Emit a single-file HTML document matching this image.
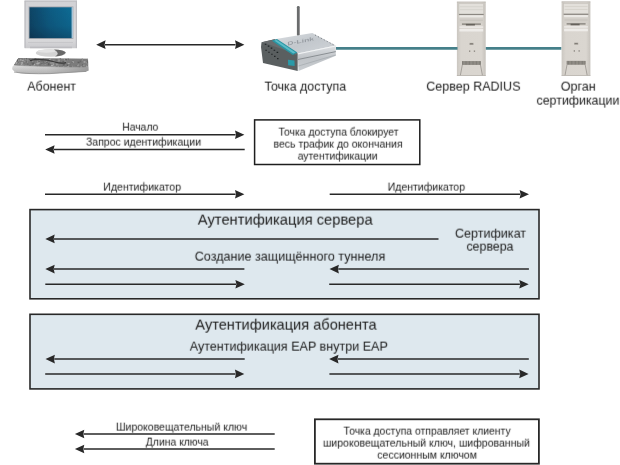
<!DOCTYPE html>
<html><head><meta charset="utf-8"><style>
html,body{margin:0;padding:0;background:#fff;}
body{width:620px;height:465px;overflow:hidden;}
svg{display:block;font-family:"Liberation Sans", sans-serif;}
</style></head><body>
<svg width="620" height="465" viewBox="0 0 620 465">
<defs><filter id="tsoft" filterUnits="userSpaceOnUse" x="0" y="0" width="620" height="465"><feConvolveMatrix order="3 2" kernelMatrix="0.03 0.29 0.03 0.05 0.55 0.05" targetX="1" targetY="1" edgeMode="none"/></filter></defs>
<rect width="620" height="465" fill="#fff"/>
<defs>
<filter id="soft" x="-10%" y="-10%" width="120%" height="120%"><feGaussianBlur stdDeviation="0.35"/></filter>
<linearGradient id="scr" x1="0" y1="0" x2="1" y2="0">
<stop offset="0" stop-color="#0f4465"/><stop offset="0.5" stop-color="#115c83"/><stop offset="1" stop-color="#0f6b94"/>
</linearGradient>
<linearGradient id="scrv" x1="0" y1="0" x2="0" y2="1"><stop offset="0" stop-color="#001426" stop-opacity="0"/><stop offset="0.6" stop-color="#001426" stop-opacity="0.08"/><stop offset="1" stop-color="#001426" stop-opacity="0.3"/></linearGradient>
<linearGradient id="bez" x1="0" y1="0" x2="0" y2="1">
<stop offset="0" stop-color="#d2d2d5"/><stop offset="0.8" stop-color="#dadadc"/><stop offset="1" stop-color="#cacacd"/>
</linearGradient>
<linearGradient id="kb" x1="0" y1="0" x2="0" y2="1">
<stop offset="0" stop-color="#cfcfcf"/><stop offset="0.55" stop-color="#d6d6d6"/><stop offset="1" stop-color="#b4b4b4"/>
</linearGradient>
<linearGradient id="kbh" x1="0" y1="0" x2="1" y2="0"><stop offset="0" stop-color="#999" stop-opacity="0"/><stop offset="0.45" stop-color="#999" stop-opacity="0.1"/><stop offset="1" stop-color="#8a8a8a" stop-opacity="0.75"/></linearGradient>
<linearGradient id="apTop" x1="0" y1="0" x2="1" y2="1">
<stop offset="0" stop-color="#d9dde1"/><stop offset="0.5" stop-color="#c3c8cd"/><stop offset="1" stop-color="#d0d4d8"/>
</linearGradient>
<linearGradient id="apSide" x1="0" y1="0" x2="0" y2="1">
<stop offset="0" stop-color="#dde0e3"/><stop offset="0.5" stop-color="#bfc3c7"/><stop offset="1" stop-color="#c9cdd1"/>
</linearGradient>
<linearGradient id="srv" x1="0" y1="0" x2="1" y2="0">
<stop offset="0" stop-color="#cbc7c1"/><stop offset="0.15" stop-color="#d9d5cf"/><stop offset="0.85" stop-color="#dad6d0"/><stop offset="1" stop-color="#c6c2bc"/>
</linearGradient>
<g id="server">
<rect x="0" y="0" width="28.8" height="74.3" fill="url(#srv)"/>
<rect x="0" y="0" width="28.8" height="0.8" fill="#bdb9b3"/>
<rect x="2" y="1.8" width="24.8" height="10.7" fill="#e3e0db"/>
<rect x="2" y="1.8" width="24.8" height="10.7" fill="none" stroke="#c4c0ba" stroke-width="0.6"/>
<line x1="3" y1="5" x2="26" y2="5" stroke="#cfcbc5" stroke-width="0.6"/>
<line x1="3" y1="8" x2="26" y2="8" stroke="#cfcbc5" stroke-width="0.6"/>
<rect x="2" y="12.2" width="24.8" height="1.2" fill="#8b8781"/>
<rect x="2.5" y="13.6" width="23.8" height="2.2" fill="#ebe9e5"/>
<rect x="2.5" y="16" width="23.8" height="5.5" fill="#d3cfc9"/>
<line x1="3" y1="18.5" x2="26" y2="18.5" stroke="#bcb8b2" stroke-width="0.6"/>
<rect x="5" y="21.8" width="19" height="1.2" fill="#7a766f"/>
<rect x="9" y="22.2" width="9" height="1.6" fill="#66625c"/>
<rect x="2.5" y="24.6" width="23.8" height="1.6" fill="#ebe9e6"/>
<rect x="2.5" y="27.2" width="23.8" height="2.6" fill="#eeece9"/>
<rect x="12.6" y="41.2" width="4" height="2" fill="#a09c95"/><rect x="13.2" y="41.6" width="2.8" height="0.9" fill="#7e7a74"/>
<rect x="12.1" y="48.8" width="1.3" height="1.3" fill="#85817b"/>
<rect x="16.9" y="48.8" width="1.3" height="1.3" fill="#85817b"/>
<rect x="5.2" y="59.3" width="18.6" height="4" fill="#a6a29b"/>
<path d="M5.6,59.5v3.6M7,59.5v3.6M8.4,59.5v3.6M9.8,59.5v3.6M11.2,59.5v3.6M12.6,59.5v3.6M14,59.5v3.6M15.4,59.5v3.6M16.8,59.5v3.6M18.2,59.5v3.6M19.6,59.5v3.6M21,59.5v3.6M22.4,59.5v3.6M23.5,59.5v3.6" stroke="#6f6b65" stroke-width="0.7"/>
<path d="M5.4,63.3 L3.4,74 M23.6,63.3 L25.6,74" stroke="#8e8a84" stroke-width="0.7" fill="none"/>
<rect x="0" y="73.5" width="28.8" height="0.8" fill="#b8b4ae"/>
</g>
</defs>
<!-- computer -->
<g filter="url(#soft)">
<rect x="24.5" y="0.6" width="52.5" height="47.6" rx="1.5" fill="url(#bez)"/>
<rect x="24.5" y="0.6" width="52.5" height="1" fill="#b9b9bd"/>
<rect x="24.5" y="0.6" width="1.2" height="47.6" fill="#bdbdc1"/>
<rect x="75.8" y="0.6" width="1.2" height="47.6" fill="#bdbdc1"/>
<rect x="28.6" y="6.4" width="44.8" height="32.6" fill="#a9aab0"/>
<rect x="29.5" y="7.3" width="42.3" height="30.8" fill="url(#scr)"/>
<rect x="29.5" y="7.3" width="42.3" height="30.8" fill="url(#scrv)"/>
<rect x="71.7" y="7.3" width="1.1" height="30.8" fill="#a9cde2"/>
<rect x="28" y="42" width="45" height="0.7" fill="#c2c2c5"/>
<rect x="30" y="46.6" width="42" height="1.6" fill="#bcbcc0"/>
<ellipse cx="50.8" cy="53" rx="15" ry="3.8" fill="#d3d3d3"/>
<path d="M54,49.4 Q64.5,49.8 65.8,52.6 Q64,56 55,56.6 Q61,53.5 54,49.4 Z" fill="#555" opacity="0.85"/>
<ellipse cx="46.5" cy="51.2" rx="9" ry="1.6" fill="#e3e3e3"/>
<path d="M18.4,58 L88,58.7 L88.6,70.4 Q87,71.6 83,71.7 L60,73 Q40,74.2 26,73.7 Q14.5,73.1 12.2,69.2 Q11.8,66.4 14,65 Z" fill="url(#kb)"/>
<path d="M14,65 L88.4,67.2 L88.6,70.4 Q87,71.6 83,71.7 L60,73 Q40,74.2 26,73.7 Q14.5,73.1 12.2,69.2 Q11.8,66.4 14,65 Z" fill="url(#kbh)"/>
<clipPath id="keys"><path d="M18.4,58 L88,58.7 L88.2,67.2 L60,67 Q40,66.2 26,65.8 L14,65 Z"/></clipPath>
<path d="M18.4,58 L88,58.7 L88.2,67.2 L60,67 Q40,66.2 26,65.8 L14,65 Z" fill="#7b7b7b"/>
<g clip-path="url(#keys)">
<rect x="30.8" y="62.7" width="1.3" height="1.5" fill="#737373"/>
<rect x="56.6" y="63.3" width="2.1" height="1.4" fill="#909090"/>
<rect x="30.6" y="67.0" width="1.5" height="1.8" fill="#afafaf"/>
<rect x="42.8" y="65.7" width="1.1" height="1.0" fill="#909090"/>
<rect x="42.2" y="57.6" width="1.9" height="1.0" fill="#909090"/>
<rect x="16.2" y="64.9" width="2.0" height="1.1" fill="#909090"/>
<rect x="66.9" y="65.8" width="1.8" height="1.9" fill="#afafaf"/>
<rect x="67.6" y="63.0" width="2.1" height="1.0" fill="#a5a5a5"/>
<rect x="20.3" y="58.8" width="1.1" height="2.0" fill="#afafaf"/>
<rect x="71.4" y="65.6" width="1.4" height="1.8" fill="#909090"/>
<rect x="39.3" y="63.1" width="1.6" height="1.9" fill="#737373"/>
<rect x="81.7" y="57.8" width="1.2" height="1.5" fill="#737373"/>
<rect x="25.2" y="65.7" width="2.2" height="1.9" fill="#909090"/>
<rect x="20.8" y="63.7" width="1.7" height="2.0" fill="#a5a5a5"/>
<rect x="34.4" y="58.1" width="2.0" height="2.0" fill="#606060"/>
<rect x="38.8" y="58.1" width="2.1" height="0.8" fill="#afafaf"/>
<rect x="70.7" y="65.8" width="0.9" height="1.5" fill="#606060"/>
<rect x="41.3" y="63.1" width="1.6" height="1.9" fill="#a5a5a5"/>
<rect x="50.9" y="67.0" width="1.2" height="0.9" fill="#909090"/>
<rect x="53.2" y="66.5" width="2.2" height="1.1" fill="#a5a5a5"/>
<rect x="24.7" y="57.9" width="2.0" height="1.2" fill="#6b6b6b"/>
<rect x="80.2" y="61.1" width="1.4" height="1.4" fill="#737373"/>
<rect x="78.0" y="64.0" width="0.9" height="2.0" fill="#909090"/>
<rect x="33.3" y="63.5" width="1.8" height="1.9" fill="#afafaf"/>
<rect x="86.3" y="62.5" width="1.6" height="0.8" fill="#afafaf"/>
<rect x="87.1" y="60.5" width="1.3" height="1.5" fill="#6b6b6b"/>
<rect x="17.5" y="63.5" width="1.5" height="1.6" fill="#a5a5a5"/>
<rect x="58.7" y="60.1" width="1.5" height="1.5" fill="#737373"/>
<rect x="14.6" y="61.0" width="1.7" height="1.2" fill="#909090"/>
<rect x="37.0" y="61.0" width="1.2" height="1.2" fill="#909090"/>
<rect x="32.8" y="65.0" width="0.9" height="1.8" fill="#909090"/>
<rect x="64.3" y="58.7" width="1.5" height="1.6" fill="#a5a5a5"/>
<rect x="30.9" y="59.3" width="1.4" height="1.6" fill="#606060"/>
<rect x="58.1" y="66.5" width="1.7" height="1.1" fill="#6b6b6b"/>
<rect x="19.0" y="64.5" width="1.1" height="1.5" fill="#a5a5a5"/>
<rect x="29.9" y="58.6" width="1.5" height="1.0" fill="#909090"/>
<rect x="26.8" y="60.1" width="1.9" height="1.6" fill="#909090"/>
<rect x="38.9" y="58.7" width="1.2" height="1.8" fill="#a5a5a5"/>
<rect x="47.9" y="63.5" width="1.2" height="1.5" fill="#606060"/>
<rect x="82.0" y="59.0" width="0.8" height="1.9" fill="#909090"/>
<rect x="87.0" y="61.6" width="2.1" height="1.9" fill="#6b6b6b"/>
<rect x="15.4" y="61.8" width="1.9" height="1.7" fill="#a5a5a5"/>
<rect x="53.8" y="66.0" width="2.0" height="1.8" fill="#a5a5a5"/>
<rect x="22.0" y="59.8" width="0.8" height="1.8" fill="#909090"/>
<rect x="82.3" y="66.0" width="2.1" height="1.5" fill="#606060"/>
<rect x="49.1" y="58.6" width="1.5" height="1.1" fill="#606060"/>
<rect x="52.4" y="61.4" width="2.1" height="1.5" fill="#a5a5a5"/>
<rect x="22.4" y="66.7" width="1.6" height="1.8" fill="#606060"/>
<rect x="39.4" y="59.4" width="1.5" height="1.8" fill="#6b6b6b"/>
<rect x="31.0" y="60.1" width="2.0" height="1.0" fill="#606060"/>
<rect x="49.6" y="62.9" width="1.4" height="1.7" fill="#6b6b6b"/>
<rect x="33.1" y="62.5" width="1.4" height="1.4" fill="#606060"/>
<rect x="77.3" y="64.9" width="0.9" height="0.9" fill="#afafaf"/>
<rect x="86.1" y="65.6" width="0.9" height="1.4" fill="#a5a5a5"/>
<rect x="24.8" y="58.2" width="1.3" height="1.3" fill="#a5a5a5"/>
<rect x="40.1" y="59.3" width="1.3" height="0.9" fill="#909090"/>
<rect x="13.3" y="64.4" width="1.9" height="1.5" fill="#606060"/>
<rect x="41.0" y="63.2" width="1.9" height="1.3" fill="#606060"/>
<rect x="59.7" y="61.6" width="1.3" height="1.4" fill="#737373"/>
<rect x="36.6" y="66.5" width="1.4" height="0.8" fill="#6b6b6b"/>
<rect x="53.2" y="64.1" width="0.9" height="1.3" fill="#afafaf"/>
<rect x="22.8" y="57.8" width="1.3" height="2.0" fill="#909090"/>
<rect x="72.3" y="60.0" width="1.4" height="0.9" fill="#737373"/>
<rect x="62.7" y="65.9" width="1.9" height="1.6" fill="#737373"/>
<rect x="36.9" y="62.6" width="1.9" height="1.7" fill="#afafaf"/>
<rect x="23.8" y="64.9" width="0.9" height="0.9" fill="#606060"/>
<rect x="62.4" y="61.1" width="1.9" height="1.2" fill="#606060"/>
<rect x="14.9" y="58.6" width="1.5" height="1.6" fill="#a5a5a5"/>
<rect x="56.4" y="65.1" width="0.9" height="1.7" fill="#909090"/>
<rect x="52.7" y="59.8" width="1.6" height="0.9" fill="#909090"/>
<rect x="17.6" y="60.6" width="1.6" height="1.8" fill="#6b6b6b"/>
<rect x="87.9" y="63.6" width="1.4" height="1.6" fill="#afafaf"/>
<rect x="32.0" y="63.2" width="2.1" height="1.5" fill="#606060"/>
<rect x="41.1" y="59.7" width="2.1" height="1.8" fill="#6b6b6b"/>
<rect x="44.1" y="62.9" width="1.6" height="1.9" fill="#737373"/>
<rect x="49.3" y="63.6" width="2.1" height="1.0" fill="#606060"/>
<rect x="50.3" y="62.1" width="1.8" height="1.9" fill="#909090"/>
<rect x="66.9" y="59.3" width="1.2" height="1.0" fill="#909090"/>
<rect x="51.7" y="66.4" width="2.0" height="1.4" fill="#a5a5a5"/>
<rect x="63.4" y="65.6" width="1.6" height="1.5" fill="#a5a5a5"/>
<rect x="79.7" y="60.4" width="1.2" height="1.8" fill="#6b6b6b"/>
<rect x="25.9" y="60.9" width="1.3" height="1.7" fill="#6b6b6b"/>
<rect x="44.4" y="64.1" width="1.8" height="1.0" fill="#909090"/>
<rect x="75.6" y="65.3" width="1.6" height="1.4" fill="#737373"/>
<rect x="18.4" y="66.5" width="1.9" height="1.9" fill="#606060"/>
<rect x="48.1" y="59.7" width="1.1" height="1.7" fill="#737373"/>
<rect x="18.2" y="59.6" width="1.2" height="1.9" fill="#a5a5a5"/>
<rect x="23.3" y="63.4" width="1.7" height="0.8" fill="#a5a5a5"/>
<rect x="25.7" y="57.9" width="1.1" height="0.9" fill="#606060"/>
<rect x="21.8" y="60.0" width="2.1" height="0.8" fill="#afafaf"/>
<rect x="56.5" y="63.9" width="0.8" height="1.2" fill="#afafaf"/>
<rect x="41.5" y="58.2" width="1.7" height="1.7" fill="#afafaf"/>
<rect x="42.3" y="62.7" width="1.0" height="1.1" fill="#737373"/>
<rect x="45.4" y="61.7" width="1.5" height="1.1" fill="#909090"/>
<rect x="83.6" y="61.1" width="1.9" height="1.7" fill="#a5a5a5"/>
<rect x="62.7" y="63.9" width="2.1" height="1.8" fill="#606060"/>
<rect x="69.6" y="66.6" width="1.7" height="1.4" fill="#606060"/>
<rect x="63.0" y="62.3" width="0.9" height="1.2" fill="#737373"/>
<rect x="55.5" y="59.2" width="1.7" height="1.6" fill="#6b6b6b"/>
<rect x="40.8" y="66.2" width="1.4" height="0.9" fill="#909090"/>
<rect x="23.6" y="60.6" width="1.8" height="1.5" fill="#909090"/>
<rect x="35.5" y="59.3" width="1.5" height="1.7" fill="#737373"/>
<rect x="18.1" y="64.3" width="1.9" height="1.5" fill="#737373"/>
<rect x="42.4" y="58.4" width="1.2" height="0.9" fill="#6b6b6b"/>
<rect x="16.2" y="62.3" width="1.1" height="1.7" fill="#a5a5a5"/>
<rect x="78.6" y="66.5" width="1.4" height="1.8" fill="#606060"/>
<rect x="39.5" y="65.5" width="1.0" height="1.1" fill="#606060"/>
<rect x="64.1" y="62.9" width="2.1" height="0.9" fill="#737373"/>
<rect x="27.2" y="61.5" width="1.8" height="1.8" fill="#737373"/>
<rect x="22.6" y="63.3" width="2.0" height="1.8" fill="#909090"/>
<rect x="52.6" y="62.9" width="1.1" height="1.1" fill="#a5a5a5"/>
<rect x="15.3" y="65.1" width="2.0" height="1.9" fill="#afafaf"/>
<rect x="36.7" y="66.1" width="1.2" height="1.4" fill="#909090"/>
<rect x="64.5" y="60.3" width="2.0" height="1.4" fill="#909090"/>
<rect x="27.3" y="63.5" width="1.0" height="1.7" fill="#6b6b6b"/>
<rect x="49.9" y="62.5" width="1.4" height="1.0" fill="#909090"/>
<rect x="28.9" y="65.2" width="2.1" height="1.9" fill="#606060"/>
<rect x="55.5" y="66.6" width="2.0" height="1.0" fill="#606060"/>
<rect x="59.7" y="58.0" width="1.3" height="1.1" fill="#606060"/>
<rect x="50.4" y="57.7" width="1.3" height="1.2" fill="#a5a5a5"/>
<rect x="65.1" y="58.8" width="2.0" height="1.5" fill="#606060"/>
<rect x="66.7" y="64.5" width="1.3" height="1.8" fill="#606060"/>
<rect x="77.6" y="61.7" width="1.9" height="1.4" fill="#606060"/>
<rect x="72.0" y="61.4" width="2.0" height="1.6" fill="#afafaf"/>
<rect x="50.3" y="64.1" width="1.6" height="1.3" fill="#737373"/>
<rect x="49.7" y="57.7" width="1.4" height="1.6" fill="#afafaf"/>
<rect x="26.5" y="66.0" width="1.8" height="1.2" fill="#a5a5a5"/>
<rect x="46.6" y="60.9" width="1.4" height="2.0" fill="#6b6b6b"/>
<rect x="32.4" y="61.0" width="2.0" height="1.4" fill="#6b6b6b"/>
<rect x="28.7" y="59.1" width="1.4" height="1.0" fill="#606060"/>
<rect x="23.4" y="63.3" width="1.4" height="1.0" fill="#606060"/>
<rect x="43.2" y="60.5" width="0.8" height="1.7" fill="#6b6b6b"/>
<rect x="43.2" y="61.3" width="0.8" height="2.0" fill="#6b6b6b"/>
<rect x="31.1" y="61.2" width="1.1" height="1.2" fill="#606060"/>
<rect x="39.0" y="58.7" width="0.9" height="1.7" fill="#a5a5a5"/>
<rect x="86.6" y="66.4" width="1.9" height="2.0" fill="#afafaf"/>
<rect x="31.7" y="60.0" width="1.9" height="1.6" fill="#a5a5a5"/>
<rect x="36.8" y="58.0" width="1.4" height="0.9" fill="#909090"/>
<rect x="13.3" y="57.8" width="0.9" height="1.0" fill="#606060"/>
<rect x="49.1" y="59.3" width="1.5" height="1.2" fill="#afafaf"/>
<rect x="38.5" y="62.0" width="1.3" height="1.6" fill="#afafaf"/>
<rect x="35.9" y="63.3" width="2.1" height="0.9" fill="#a5a5a5"/>
<rect x="26.8" y="61.4" width="1.5" height="1.5" fill="#909090"/>
<rect x="64.0" y="66.3" width="1.0" height="1.7" fill="#737373"/>
<rect x="41.9" y="66.4" width="1.3" height="1.0" fill="#afafaf"/>
<rect x="45.9" y="61.7" width="1.8" height="1.2" fill="#6b6b6b"/>
<rect x="51.0" y="64.7" width="2.1" height="1.6" fill="#afafaf"/>
<rect x="16.2" y="59.1" width="1.9" height="1.8" fill="#606060"/>
<rect x="69.9" y="63.9" width="0.9" height="1.1" fill="#737373"/>
<rect x="17.2" y="63.3" width="0.9" height="1.4" fill="#737373"/>
<rect x="61.5" y="67.0" width="0.8" height="1.0" fill="#606060"/>
<rect x="38.4" y="60.5" width="1.4" height="1.8" fill="#6b6b6b"/>
<rect x="31.1" y="58.0" width="1.0" height="1.6" fill="#909090"/>
<rect x="86.9" y="58.6" width="1.2" height="1.1" fill="#909090"/>
<rect x="51.7" y="62.3" width="2.1" height="1.2" fill="#909090"/>
<rect x="71.7" y="61.9" width="1.7" height="0.8" fill="#606060"/>
<rect x="57.9" y="65.7" width="0.9" height="1.9" fill="#a5a5a5"/>
<rect x="19.4" y="61.9" width="1.1" height="1.8" fill="#909090"/>
<rect x="21.2" y="62.1" width="1.7" height="1.6" fill="#afafaf"/>
<rect x="58.2" y="61.7" width="1.0" height="1.8" fill="#909090"/>
<rect x="46.3" y="61.1" width="1.0" height="0.8" fill="#a5a5a5"/>
<rect x="67.6" y="58.2" width="1.3" height="1.4" fill="#606060"/>
<rect x="82.3" y="64.0" width="1.3" height="1.7" fill="#606060"/>
<rect x="58.4" y="59.5" width="1.3" height="2.0" fill="#a5a5a5"/>
<rect x="30.7" y="61.7" width="1.2" height="1.2" fill="#737373"/>
<rect x="82.8" y="64.4" width="2.0" height="2.0" fill="#909090"/>
<rect x="47.8" y="64.3" width="2.0" height="1.2" fill="#6b6b6b"/>
<rect x="80.7" y="66.5" width="1.5" height="1.7" fill="#afafaf"/>
<rect x="48.2" y="63.1" width="0.8" height="1.9" fill="#606060"/>
<rect x="26.8" y="58.4" width="1.8" height="1.2" fill="#909090"/>
</g>
<path d="M30,60.5 Q42,57.8 55,62 Q61,64 66,62.6" stroke="#3a3a3a" stroke-width="1.3" fill="none"/>
<path d="M14,65 L26,65.8 Q40,66.2 60,67 L88.2,67.2" stroke="#9a9a9a" stroke-width="0.6" fill="none"/>
<path d="M14,72 Q26,74.2 50,73.6 L86,71.4" stroke="#8d8d8d" stroke-width="0.8" fill="none"/>
</g>
<!-- access point -->
<g filter="url(#soft)">
<rect x="296.9" y="6" width="2.8" height="30" rx="1.2" fill="#6a6c6d"/>
<path d="M274.5,39.2 L312.3,33.1 L335.8,45.4 L297.7,53.4 Z" fill="url(#apTop)"/>
<path d="M297.7,53.4 L335.8,45.4 L335.8,55.8 L298.5,71 Z" fill="url(#apSide)"/>
<path d="M298,59.5 L335.8,51.6" stroke="#8a8f93" stroke-width="1"/>
<path d="M298.3,66 L335.8,55" stroke="#a4a9ad" stroke-width="0.7"/>
<path d="M297.5,54 L335.8,46" stroke="#f2f4f5" stroke-width="1"/>
<path d="M315,35 L334,45" stroke="#6f7478" stroke-width="0.9" stroke-dasharray="1.1 2.2"/>
<text x="0" y="0" transform="translate(287.6,45.6) rotate(-11.3) skewX(-8)" font-family="Liberation Sans" font-weight="bold" font-size="5" fill="#979ca2" textLength="27" lengthAdjust="spacingAndGlyphs">D-Link</text>
<path d="M261.5,42.3 L274.5,39.2 L297.7,53.4 L297.7,71 L263,62.9 L261,47 Z" fill="#5a5f61"/>
<path d="M262,42.3 L274.5,39.2 L297.2,53.2 L296,55 L285,50 Z" fill="#676c6e"/>
<path d="M271.8,40.8 L277,39.1 L297.4,52.4 L292.8,55 Z" fill="#2995a3"/>
<path d="M274.2,40.6 L276.6,39.9 L295.6,52.4 L293.2,53.6 Z" fill="#5bbcc8"/>
<path d="M288,59.7 L294.5,60.4 L294.6,66.1 L288.1,65.3 Z" fill="#2a9aa8"/>
<g stroke="#1d2021" stroke-width="1.1">
<path d="M264.8,44.2 h1.6 M267.8,46.1 h1.6 M270.7,48.1 h1.6 M273.6,50.2 h1.6 M276.6,52.4 h1.6"/>
<path d="M265.4,50.2 h1.4 M268.3,52.2 h1.4 M271.2,54.3 h1.4 M274.1,56.4 h1.4 M277.1,58.6 h1.4"/>
</g>
</g>
<!-- servers -->
<use href="#server" x="456.9" y="1.7" filter="url(#soft)"/>
<use href="#server" x="561.6" y="1.5" filter="url(#soft)"/>

<rect x="30" y="209.6" width="509" height="89.2" fill="#dee8ee" stroke="#282828" stroke-width="1.6"/><rect x="30" y="314.3" width="509" height="74.6" fill="#dee8ee" stroke="#282828" stroke-width="1.6"/><rect x="254.6" y="119.9" width="165.2" height="44.6" fill="#fff" stroke="#1e1e1e" stroke-width="1.5"/><rect x="314.9" y="419.3" width="224" height="44.4" fill="#fff" stroke="#282828" stroke-width="1.8"/><line x1="104.90" y1="44.65" x2="235.60" y2="44.65" stroke="#282828" stroke-width="1.5"/><path d="M244.40,44.65 L235.00,40.35 L236.00,44.65 L235.00,48.95 Z" fill="#282828"/><path d="M96.20,44.65 L105.60,40.35 L104.60,44.65 L105.60,48.95 Z" fill="#282828"/><line x1="45.00" y1="134.70" x2="235.60" y2="134.70" stroke="#282828" stroke-width="1.5"/><path d="M244.40,134.70 L235.00,130.40 L236.00,134.70 L235.00,139.00 Z" fill="#282828"/><line x1="53.90" y1="149.45" x2="244.70" y2="149.45" stroke="#282828" stroke-width="1.5"/><path d="M45.20,149.45 L54.60,145.15 L53.60,149.45 L54.60,153.75 Z" fill="#282828"/><line x1="45.00" y1="194.20" x2="235.60" y2="194.20" stroke="#282828" stroke-width="1.5"/><path d="M244.40,194.20 L235.00,189.90 L236.00,194.20 L235.00,198.50 Z" fill="#282828"/><line x1="329.70" y1="194.20" x2="520.20" y2="194.20" stroke="#282828" stroke-width="1.5"/><path d="M529.00,194.20 L519.60,189.90 L520.60,194.20 L519.60,198.50 Z" fill="#282828"/><line x1="54.00" y1="238.90" x2="438.50" y2="238.90" stroke="#282828" stroke-width="1.5"/><path d="M45.30,238.90 L54.70,234.60 L53.70,238.90 L54.70,243.20 Z" fill="#282828"/><line x1="54.00" y1="269.10" x2="244.40" y2="269.10" stroke="#282828" stroke-width="1.5"/><path d="M45.30,269.10 L54.70,264.80 L53.70,269.10 L54.70,273.40 Z" fill="#282828"/><line x1="338.20" y1="269.10" x2="528.90" y2="269.10" stroke="#282828" stroke-width="1.5"/><path d="M329.50,269.10 L338.90,264.80 L337.90,269.10 L338.90,273.40 Z" fill="#282828"/><line x1="45.30" y1="284.20" x2="236.00" y2="284.20" stroke="#282828" stroke-width="1.5"/><path d="M244.80,284.20 L235.40,279.90 L236.40,284.20 L235.40,288.50 Z" fill="#282828"/><line x1="329.20" y1="284.20" x2="519.90" y2="284.20" stroke="#282828" stroke-width="1.5"/><path d="M528.70,284.20 L519.30,279.90 L520.30,284.20 L519.30,288.50 Z" fill="#282828"/><line x1="54.20" y1="359.10" x2="244.70" y2="359.10" stroke="#282828" stroke-width="1.5"/><path d="M45.50,359.10 L54.90,354.80 L53.90,359.10 L54.90,363.40 Z" fill="#282828"/><line x1="337.80" y1="359.10" x2="528.80" y2="359.10" stroke="#282828" stroke-width="1.5"/><path d="M329.10,359.10 L338.50,354.80 L337.50,359.10 L338.50,363.40 Z" fill="#282828"/><line x1="45.20" y1="373.90" x2="235.50" y2="373.90" stroke="#282828" stroke-width="1.5"/><path d="M244.30,373.90 L234.90,369.60 L235.90,373.90 L234.90,378.20 Z" fill="#282828"/><line x1="329.40" y1="373.90" x2="519.80" y2="373.90" stroke="#282828" stroke-width="1.5"/><path d="M528.60,373.90 L519.20,369.60 L520.20,373.90 L519.20,378.20 Z" fill="#282828"/><line x1="83.60" y1="434.00" x2="274.70" y2="434.00" stroke="#282828" stroke-width="1.5"/><path d="M74.90,434.00 L84.30,429.70 L83.30,434.00 L84.30,438.30 Z" fill="#282828"/><line x1="83.60" y1="449.00" x2="274.70" y2="449.00" stroke="#282828" stroke-width="1.5"/><path d="M74.90,449.00 L84.30,444.70 L83.30,449.00 L84.30,453.30 Z" fill="#282828"/><line x1="336" y1="48.35" x2="457.5" y2="48.35" stroke="#45808a" stroke-width="2.8"/><line x1="485.8" y1="48.35" x2="561.3" y2="48.35" stroke="#45808a" stroke-width="2.8"/>
<g filter="url(#tsoft)" fill="#1c1c1c"><text x="51.64" y="90.00" font-size="12.44" text-anchor="middle">Абонент</text><text x="305.24" y="90.00" font-size="12.4" text-anchor="middle">Точка доступа</text><text x="473.42" y="90.00" font-size="12.53" text-anchor="middle">Сервер RADIUS</text><text x="578.24" y="90.00" font-size="12.64" text-anchor="middle">Орган</text><text x="536.50" y="104.00" font-size="12.4" text-anchor="start">сертификации</text><text x="140.26" y="130.00" font-size="10.4" text-anchor="middle">Начало</text><text x="143.50" y="145.00" font-size="10.52" text-anchor="middle">Запрос идентификации</text><text x="338.52" y="135.00" font-size="10.4" text-anchor="middle">Точка доступа блокирует</text><text x="338.04" y="147.00" font-size="10.5" text-anchor="middle">весь трафик до окончания</text><text x="337.66" y="158.50" font-size="10.4" text-anchor="middle">аутентификации</text><text x="142.20" y="190.20" font-size="10.57" text-anchor="middle">Идентификатор</text><text x="426.36" y="190.20" font-size="10.51" text-anchor="middle">Идентификатор</text><text x="285.26" y="224.00" font-size="14.72" text-anchor="middle">Аутентификация сервера</text><text x="490.50" y="237.00" font-size="12.58" text-anchor="middle">Сертификат</text><text x="489.98" y="250.00" font-size="12.4" text-anchor="middle">сервера</text><text x="290.00" y="260.00" font-size="12.6" text-anchor="middle">Создание защищённого туннеля</text><text x="286.00" y="329.00" font-size="14.6" text-anchor="middle">Аутентификация абонента</text><text x="288.77" y="350.00" font-size="12.57" text-anchor="middle">Аутентификация EAP внутри EAP</text><text x="181.54" y="430.00" font-size="10.53" text-anchor="middle">Широковещательный ключ</text><text x="177.24" y="445.00" font-size="10.4" text-anchor="middle">Длина ключа</text><text x="427.11" y="434.00" font-size="10.4" text-anchor="middle">Точка доступа отправляет клиенту</text><text x="426.43" y="446.00" font-size="10.52" text-anchor="middle">широковещательный ключ, шифрованный</text><text x="427.14" y="458.00" font-size="10.51" text-anchor="middle">сессионным ключом</text></g>
</svg>
</body></html>
